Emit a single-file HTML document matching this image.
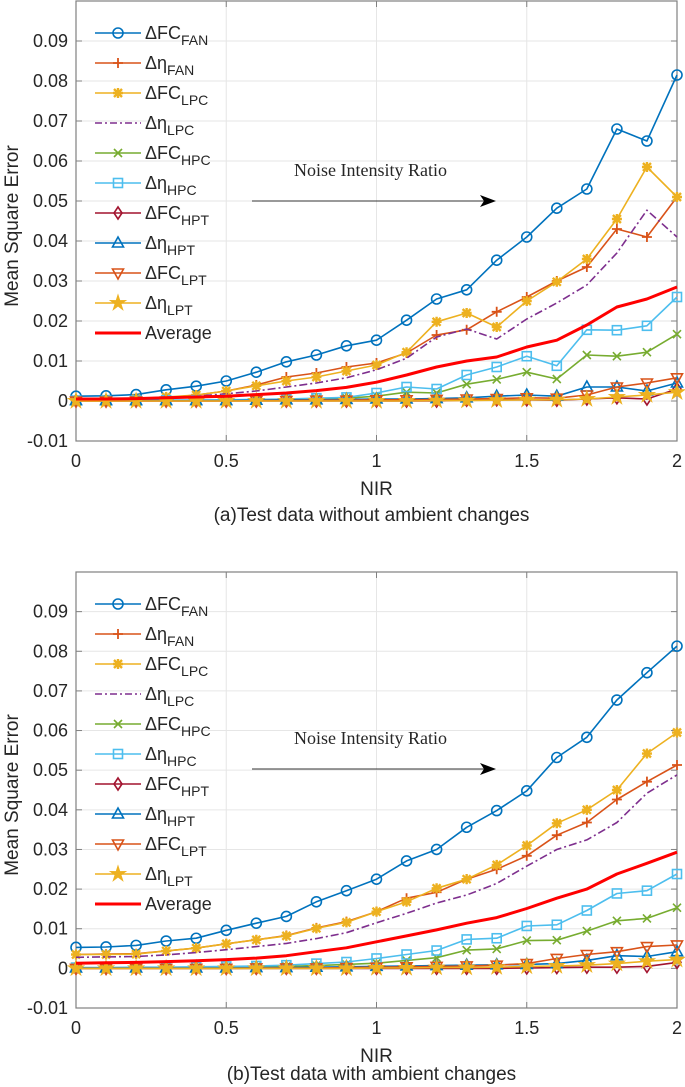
<!DOCTYPE html>
<html><head><meta charset="utf-8">
<style>
html,body{margin:0;padding:0;background:#fff;}
svg{display:block;font-family:"Liberation Sans",Arial,sans-serif;}
</style></head>
<body>
<svg id="fig" width="685" height="1087" viewBox="0 0 685 1087" xmlns="http://www.w3.org/2000/svg"></svg>
<script>
const nir = [0,0.1,0.2,0.3,0.4,0.5,0.6,0.7,0.8,0.9,1.0,1.1,1.2,1.3,1.4,1.5,1.6,1.7,1.8,1.9,2.0];
const xTicks = [0,0.5,1,1.5,2];
const xTickLabels = ["0","0.5","1","1.5","2"];
const yTicks = [-0.01,0,0.01,0.02,0.03,0.04,0.05,0.06,0.07,0.08,0.09];
const yTickLabels = ["-0.01","0","0.01","0.02","0.03","0.04","0.05","0.06","0.07","0.08","0.09"];
const seriesNames = ["FC|FAN","η|FAN","FC|LPC","η|LPC","FC|HPC","η|HPC","FC|HPT","η|HPT","FC|LPT","η|LPT","Average"];

// Panel (a)
const a_fcFan  = [0.0012,0.0013,0.0016,0.0028,0.0037,0.005,0.0072,0.0098,0.0115,0.0138,0.0152,0.0202,0.0255,0.0278,0.0352,0.041,0.0482,0.053,0.068,0.065,0.0815];
const a_etaFan = [0,0.0003,0.0005,0.0008,0.0015,0.0025,0.004,0.006,0.007,0.0085,0.0095,0.012,0.0165,0.0178,0.0223,0.026,0.030,0.0335,0.043,0.041,0.051];
const a_fcLpc  = [0.0003,0.0004,0.0006,0.001,0.0015,0.0025,0.0038,0.005,0.006,0.0075,0.009,0.0122,0.0198,0.022,0.0185,0.025,0.0298,0.0355,0.0455,0.0585,0.051];
const a_etaLpc = [0.0002,0.0003,0.0005,0.0008,0.0012,0.0018,0.0025,0.0035,0.0045,0.0058,0.0078,0.0107,0.016,0.018,0.0155,0.0205,0.0245,0.029,0.037,0.0477,0.041];
const a_fcHpc  = [0.0001,0.0001,0.0001,0.0001,0.0002,0.0002,0.0003,0.0004,0.0005,0.0007,0.0012,0.0022,0.002,0.0042,0.0054,0.0072,0.0055,0.0115,0.0112,0.0122,0.0167];
const a_etaHpc = [0.0001,0.0001,0.0001,0.0002,0.0002,0.0003,0.0004,0.0005,0.0007,0.0009,0.002,0.0035,0.003,0.0065,0.0085,0.0112,0.0088,0.0178,0.0177,0.0188,0.026];
const a_fcHpt  = [0,0,0,0,0,0,0,0,0,0,0,0,0,0.0002,0.0003,0.0003,0.0002,0.0005,0.0008,0.0005,0.003];
const a_etaHpt = [0.0001,0.0001,0.0001,0.0001,0.0001,0.0001,0.0002,0.0003,0.0003,0.0004,0.0005,0.0005,0.0006,0.0008,0.0012,0.0015,0.0012,0.0035,0.0035,0.0025,0.0045];
const a_fcLpt  = [0,0,0,0,0,0,0.0001,0.0001,0.0002,0.0002,0.0003,0.0003,0.0004,0.0005,0.0006,0.0008,0.0007,0.0015,0.0035,0.0045,0.0058];
const a_etaLpt = [0,0,0,0,0,0,0,0,0,0,0,0,0.0001,0.0001,0.0002,0.0003,0.0003,0.0005,0.001,0.0015,0.0022];
const a_avg    = [0.0005,0.0005,0.0006,0.0008,0.001,0.0012,0.0016,0.002,0.0026,0.0034,0.0047,0.0065,0.0085,0.01,0.011,0.0135,0.0152,0.019,0.0235,0.0255,0.0285];

// Panel (b)
const b_fcFan  = [0.0053,0.0054,0.0058,0.0069,0.0076,0.0096,0.0114,0.0131,0.0168,0.0196,0.0225,0.0271,0.030,0.0356,0.0398,0.0448,0.0532,0.0583,0.0677,0.0746,0.0813];
const b_etaFan = [0.0035,0.0036,0.0037,0.0044,0.0051,0.0062,0.0072,0.0083,0.0102,0.0118,0.0143,0.0177,0.0192,0.0225,0.025,0.0284,0.0336,0.0368,0.0426,0.0471,0.0513];
const b_fcLpc  = [0.0035,0.0035,0.0036,0.0044,0.0051,0.0062,0.0072,0.0082,0.0101,0.0116,0.0143,0.0168,0.0202,0.0225,0.0261,0.031,0.0366,0.040,0.045,0.0542,0.0595];
const b_etaLpc = [0.0028,0.0029,0.003,0.0034,0.004,0.0047,0.0055,0.0063,0.0075,0.009,0.0115,0.0139,0.0165,0.0185,0.0214,0.0258,0.030,0.0324,0.0368,0.0442,0.0488];
const b_fcHpc  = [0.0001,0.0001,0.0001,0.0002,0.0002,0.0003,0.0004,0.0005,0.0007,0.001,0.0013,0.002,0.0027,0.0046,0.0049,0.007,0.0071,0.0094,0.012,0.0126,0.0153];
const b_etaHpc = [0.0002,0.0002,0.0003,0.0003,0.0004,0.0005,0.0006,0.0008,0.0012,0.0016,0.0025,0.0035,0.0045,0.0073,0.0076,0.0107,0.011,0.0146,0.0189,0.0196,0.0238];
const b_fcHpt  = [0,0,0,0,0,0,0,0,0,0,0,0,0,0,0,0.0001,0.0002,0.0003,0.0003,0.0005,0.0015];
const b_etaHpt = [0.0001,0.0001,0.0001,0.0001,0.0001,0.0001,0.0002,0.0002,0.0003,0.0004,0.0005,0.0006,0.0007,0.0008,0.0009,0.001,0.0012,0.002,0.0032,0.003,0.0042];
const b_fcLpt  = [0,0,0,0,0,0,0.0001,0.0001,0.0001,0.0002,0.0003,0.0004,0.0005,0.0006,0.0008,0.0012,0.0025,0.0035,0.0042,0.0055,0.0059];
const b_etaLpt = [0,0,0,0,0,0,0,0,0,0,0.0001,0.0001,0.0002,0.0002,0.0003,0.0005,0.0006,0.0008,0.0012,0.0018,0.0022];
const b_avg    = [0.0013,0.0014,0.0015,0.0017,0.0019,0.0022,0.0026,0.0032,0.0042,0.0052,0.0067,0.0082,0.0097,0.0114,0.0128,0.0151,0.0177,0.020,0.0238,0.0265,0.0293];

const NS = "http://www.w3.org/2000/svg";
const svg = document.getElementById("fig");
function mk(tag, attrs, parent){
  const e = document.createElementNS(NS, tag);
  for (const k in attrs) e.setAttribute(k, attrs[k]);
  (parent||svg).appendChild(e);
  return e;
}
const styles = [
  {c:"#0072BD", m:"circle", w:1.6},
  {c:"#D95319", m:"plus", w:1.6},
  {c:"#EDB120", m:"asterisk", w:1.6},
  {c:"#7E2F8E", m:"none", w:1.6, dash:"8,3,2,3"},
  {c:"#77AC30", m:"x", w:1.6},
  {c:"#4DBEEE", m:"square", w:1.6},
  {c:"#A2142F", m:"diamond", w:1.6},
  {c:"#0072BD", m:"tri", w:1.6},
  {c:"#D95319", m:"trid", w:1.6},
  {c:"#EDB120", m:"star", w:1.6},
  {c:"#FF0000", m:"none", w:3}
];
function marker(g, type, cx, cy, col){
  const s = 5;
  if (type==="circle") mk("circle",{cx:cx,cy:cy,r:s,fill:"none",stroke:col,"stroke-width":1.6},g);
  else if (type==="plus") mk("path",{d:`M${cx-s} ${cy}H${cx+s}M${cx} ${cy-s}V${cy+s}`,stroke:col,"stroke-width":1.8,fill:"none"},g);
  else if (type==="x") mk("path",{d:`M${cx-4} ${cy-4}L${cx+4} ${cy+4}M${cx-4} ${cy+4}L${cx+4} ${cy-4}`,stroke:col,"stroke-width":1.6,fill:"none"},g);
  else if (type==="asterisk") mk("path",{d:`M${cx-s} ${cy}H${cx+s}M${cx} ${cy-s}V${cy+s}M${cx-4} ${cy-4}L${cx+4} ${cy+4}M${cx-4} ${cy+4}L${cx+4} ${cy-4}`,stroke:col,"stroke-width":2.4,fill:"none"},g);
  else if (type==="square") mk("rect",{x:cx-4.5,y:cy-4.5,width:9,height:9,fill:"none",stroke:col,"stroke-width":1.6},g);
  else if (type==="diamond") mk("path",{d:`M${cx} ${cy-6}L${cx+4} ${cy}L${cx} ${cy+6}L${cx-4} ${cy}Z`,fill:"none",stroke:col,"stroke-width":1.6},g);
  else if (type==="tri") mk("path",{d:`M${cx} ${cy-6}L${cx+5.5} ${cy+4}L${cx-5.5} ${cy+4}Z`,fill:"none",stroke:col,"stroke-width":1.6},g);
  else if (type==="trid") mk("path",{d:`M${cx} ${cy+6}L${cx+5.5} ${cy-4}L${cx-5.5} ${cy-4}Z`,fill:"none",stroke:col,"stroke-width":1.6},g);
  else if (type==="star"){
    let p="";
    for(let i=0;i<10;i++){const r=i%2?3:8;const a=-Math.PI/2+i*Math.PI/5;p+=(i?"L":"M")+(cx+r*Math.cos(a)).toFixed(1)+" "+(cy+r*Math.sin(a)).toFixed(1);}
    mk("path",{d:p+"Z",fill:col,stroke:col,"stroke-width":1},g);
  }
}

function panel(id, top, bottom, series, caption, annY){
  const L=76, R=677;
  const x = v => L + (v-0)/(2-0)*(R-L);
  const y = v => bottom - (v-(-0.01))/(0.1-(-0.01))*(bottom-top);
  const g = mk("g",{});
  
  
  const grid = mk("g",{},g);
  
  
  xTicks.forEach(t=>{ mk("line",{x1:x(t),x2:x(t),y1:top,y2:bottom,stroke:"#e6e6e6","stroke-width":1},grid); });
  yTicks.forEach(t=>{ mk("line",{x1:L,x2:R,y1:y(t),y2:y(t),stroke:"#e6e6e6","stroke-width":1},grid); });
  const box = mk("rect",{x:L,y:top,width:R-L,height:bottom-top,fill:"none",stroke:"#808080","stroke-width":1.2},g);
  
  
  xTicks.forEach((t,i)=>{
    mk("line",{x1:x(t),x2:x(t),y1:bottom,y2:bottom-6,stroke:"#808080"},g);
    mk("line",{x1:x(t),x2:x(t),y1:top,y2:top+6,stroke:"#808080"},g);
    const tx = mk("text",{x:x(t),y:bottom+26,"text-anchor":"middle","font-size":18,fill:"#262626"},g);
    tx.textContent = xTickLabels[i];
    
    
  });
  yTicks.forEach((t,i)=>{
    mk("line",{x1:L,x2:L+6,y1:y(t),y2:y(t),stroke:"#808080"},g);
    mk("line",{x1:R,x2:R-6,y1:y(t),y2:y(t),stroke:"#808080"},g);
    const ty = mk("text",{x:L-8,y:y(t)+6,"text-anchor":"end","font-size":18,fill:"#262626"},g);
    ty.textContent = yTickLabels[i];
    
    
  });
  const yt = mk("text",{x:0,y:0,"text-anchor":"middle","font-size":19,fill:"#262626",transform:`translate(18,${(top+bottom)/2+5}) rotate(-90)`},g);
  yt.textContent = "Mean Square Error";
  
  
  const xt = mk("text",{x:(L+R)/2,y:bottom+54,"text-anchor":"middle","font-size":19,fill:"#262626"},g);
  xt.textContent = "NIR";
  
  
  const cp = mk("text",{x:(L+R)/2 - 5,y:bottom+(id==="a"?80:72),"text-anchor":"middle","font-size":19,fill:"#262626"},g);
  cp.textContent = caption;
  
  
  const an = mk("text",{x:447,y:annY+6,"text-anchor":"end","font-size":18,"font-family":"Liberation Serif, serif",fill:"#262626"},g);
  an.textContent = "Noise Intensity Ratio";
  
  
  const ar = mk("g",{},g);
  
  
  mk("line",{x1:252,x2:488,y1:annY+31,y2:annY+31,stroke:"#333","stroke-width":1},ar);
  mk("path",{d:`M496 ${annY+31}L480 ${annY+25}L484 ${annY+31}L480 ${annY+37}Z`,fill:"#000"},ar);
  series.forEach((data,si)=>{
    const st = styles[si];
    const sg = mk("g",{},g);
    
    
    const pts = data.map((v,i)=>x(nir[i]).toFixed(1)+","+y(v).toFixed(1)).join(" ");
    const pl = mk("polyline",{points:pts,fill:"none",stroke:st.c,"stroke-width":st.w,"stroke-linejoin":"round"},sg);
    if (st.dash) pl.setAttribute("stroke-dasharray", st.dash);
    if (st.m!=="none") data.forEach((v,i)=>marker(sg, st.m, x(nir[i]), y(v), st.c));
  });
  const lg = mk("g",{},g);
  
  
  seriesNames.forEach((nm,si)=>{
    const st = styles[si];
    const ly = top + 32 + si*30;
    const eg = mk("g",{},lg);
    
    
    const ln = mk("line",{x1:95,x2:141,y1:ly,y2:ly,stroke:st.c,"stroke-width":st.w},eg);
    if (st.dash) ln.setAttribute("stroke-dasharray","7,3,2,3");
    if (st.m!=="none") marker(eg, st.m, 118, ly, st.c);
    const t = mk("text",{x:145,y:ly+6,"font-size":18,fill:"#262626"},eg);
    if (nm==="Average"){ t.textContent="Average"; }
    else {
      const [base,sub] = nm.split("|");
      const t1 = mk("tspan",{},t); t1.textContent = "Δ"+base;
      const t2 = mk("tspan",{dy:6,"font-size":14},t); t2.textContent = sub;
    }
  });
}
panel("a", 1, 441, [a_fcFan,a_etaFan,a_fcLpc,a_etaLpc,a_fcHpc,a_etaHpc,a_fcHpt,a_etaHpt,a_fcLpt,a_etaLpt,a_avg], "(a)Test data without ambient changes", 170);
panel("b", 572, 1008, [b_fcFan,b_etaFan,b_fcLpc,b_etaLpc,b_fcHpc,b_etaHpc,b_fcHpt,b_etaHpt,b_fcLpt,b_etaLpt,b_avg], "(b)Test data with ambient changes", 738);
</script>
</body></html>
